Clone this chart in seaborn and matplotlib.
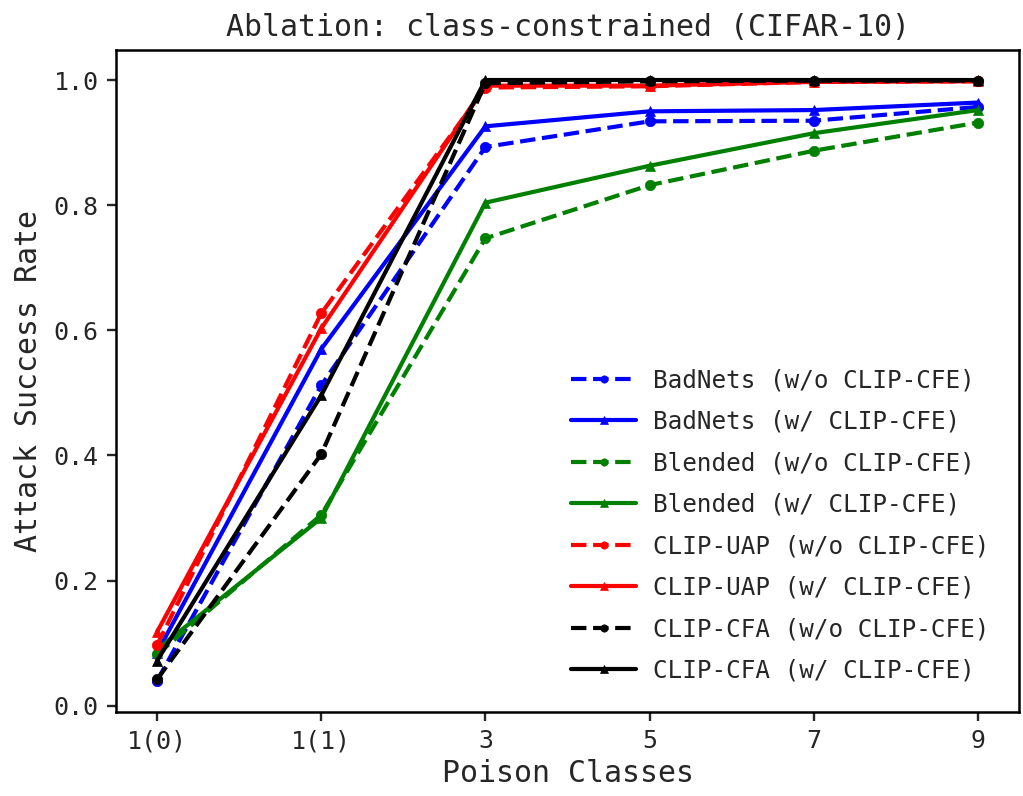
import seaborn as sns
import matplotlib
matplotlib.use('Agg')
import matplotlib.pyplot as plt
import numpy as np

# Data
classes = ['1(0)', '1(1)', '3', '5', '7', '9']
badnets_wo = [0.040, 0.512, 0.893, 0.934, 0.935, 0.957]
badnets_w = [0.085, 0.570, 0.926, 0.950, 0.952, 0.964]
blended_wo = [0.082, 0.305, 0.747, 0.832, 0.887, 0.932]
blended_w = [0.090, 0.300, 0.804, 0.863, 0.915, 0.952]
clipuap_wo = [0.097, 0.627, 0.988, 0.990, 0.997, 0.998]
clipuap_w = [0.118, 0.603, 0.991, 0.991, 0.997, 0.998]
clipcfa_wo = [0.042, 0.402, 0.995, 0.998, 0.999, 0.999]
clipcfa_w = [0.072, 0.496, 1.000, 1.000, 1.000, 1.000]

series = [
    ('BadNets (w/o CLIP-CFE)', badnets_wo, 'blue', '--', 'o'),
    ('BadNets (w/ CLIP-CFE)', badnets_w, 'blue', '-', '^'),
    ('Blended (w/o CLIP-CFE)', blended_wo, 'green', '--', 'o'),
    ('Blended (w/ CLIP-CFE)', blended_w, 'green', '-', '^'),
    ('CLIP-UAP (w/o CLIP-CFE)', clipuap_wo, 'red', '--', 'o'),
    ('CLIP-UAP (w/ CLIP-CFE)', clipuap_w, 'red', '-', '^'),
    ('CLIP-CFA (w/o CLIP-CFE)', clipcfa_wo, 'black', '--', 'o'),
    ('CLIP-CFA (w/ CLIP-CFE)', clipcfa_w, 'black', '-', '^'),
]

sns.set_style('ticks')
plt.rcParams['font.family'] = ['DejaVu Sans Mono']
plt.rcParams['axes.linewidth'] = 1.8

fig = plt.figure(figsize=(10.23, 7.96), dpi=100)
ax = fig.add_axes([0.1134, 0.1055, 0.8827, 0.8317])

pos = np.arange(len(classes))
for label, vals, color, ls, mk in series:
    sns.lineplot(x=pos, y=vals, ax=ax, color=color, linestyle=ls, marker=mk,
                 markersize=7.5, markeredgecolor=color, markeredgewidth=0.5,
                 linewidth=3.0, label=label)

ax.set_xticks(pos)
ax.set_xticklabels(classes)
ax.set_xlim(-0.25, 5.25)
ax.set_ylim(-0.010, 1.048)
ax.set_yticks([0.0, 0.2, 0.4, 0.6, 0.8, 1.0])
ax.tick_params(axis='both', labelsize=18, length=6.5, width=1.7, pad=6)
for s in ax.spines.values():
    s.set_visible(True)
    s.set_color('black')

ax.set_title('Ablation: class-constrained (CIFAR-10)', fontsize=21.5, pad=10)
ax.set_xlabel('Poison Classes', fontsize=21.5, labelpad=4)
ax.set_ylabel('Attack Success Rate', fontsize=21.5, labelpad=8)

ax.legend(loc='lower right', frameon=False, fontsize=17.5, handlelength=2.7,
          handletextpad=0.7, labelspacing=0.72, markerscale=0.7,
          borderaxespad=0.8)

fig.savefig('out.png', dpi=100)
